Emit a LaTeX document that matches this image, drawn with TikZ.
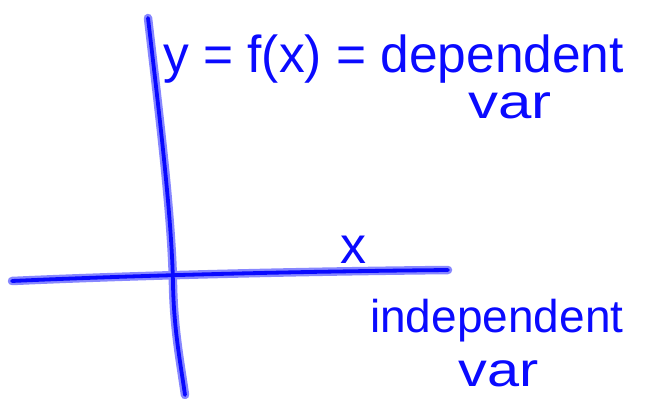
\documentclass[tikz,border=0pt]{standalone}
\usepackage{fontspec}
\setmainfont{Liberation Sans}
\definecolor{ink}{RGB}{10,10,255}
\definecolor{halo}{RGB}{135,135,255}
\tikzset{
  pen/.style={ink, line width=3.8pt, line cap=round, line join=round},
  penhalo/.style={halo, line width=8.5pt, line cap=round, line join=round},
  hand/.style={text=ink, inner sep=0pt, anchor=base west}
}
\begin{document}
\begin{tikzpicture}[x=1pt,y=-1pt]
\useasboundingbox (0,0) rectangle (657,399);
% axes coordinates
\coordinate (vtop) at (148,18);
\coordinate (vbot) at (185,395);
\coordinate (hl) at (12,281);
\coordinate (hr) at (448,270);
% axes: halo then core
\foreach \s in {penhalo,pen}{
  \draw[\s] (vtop) .. controls (160,120) and (172,220) .. (173,285) .. controls (174,330) and (180,360) .. (vbot);
  \draw[\s] (hl) .. controls (100,277) and (250,272) .. (hr);
}
% labels
\node[hand, font=\fontsize{52}{52}\selectfont, xscale=0.99] (ylab) at (163,72) {y = f(x) = dependent};
\node[hand, font=\fontsize{48}{48}\selectfont, xscale=1.25] (yvar) at (468,118) {var};
\node[hand, font=\fontsize{52}{52}\selectfont] (xlab) at (340,263) {x};
\node[hand, font=\fontsize{46}{46}\selectfont] (xind) at (370,332) {independent};
\node[hand, font=\fontsize{48}{48}\selectfont, xscale=1.2] (xvar) at (458,386) {var};
\end{tikzpicture}
\end{document}
